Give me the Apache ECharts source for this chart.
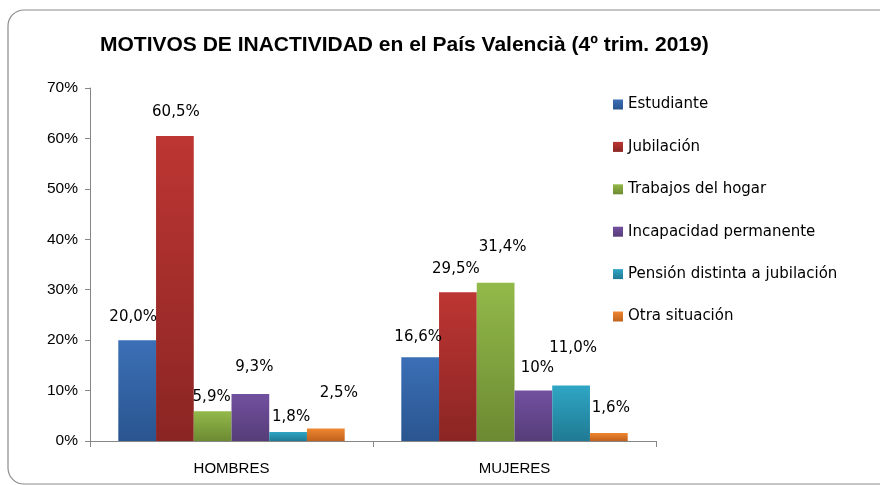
<!DOCTYPE html>
<html>
<head>
<meta charset="utf-8">
<script src="https://cdn.jsdelivr.net/npm/echarts@6/dist/echarts.min.js"></script>
<style>
  html, body { margin: 0; padding: 0; background: #fff; }
  #chart { width: 880px; height: 485px; }
</style>
</head>
<body>
<div id="chart"></div>
<script>
const categories = ["HOMBRES", "MUJERES"];
const seriesNames = [
  "Estudiante",
  "Jubilación",
  "Trabajos del hogar",
  "Incapacidad permanente",
  "Pensión distinta a jubilación",
  "Otra situación",
];
// values per series: [HOMBRES, MUJERES]
const estudiante = [20.0, 16.6];
const jubilacion = [60.5, 29.5];
const trabajosHogar = [5.9, 31.4];
const incapacidad = [9.3, 10.0];
const pension = [1.8, 11.0];
const otra = [2.5, 1.6];
// label texts as printed in the chart
const estudianteLabels = ["20,0%", "16,6%"];
const jubilacionLabels = ["60,5%", "29,5%"];
const trabajosHogarLabels = ["5,9%", "31,4%"];
const incapacidadLabels = ["9,3%", "10%"];
const pensionLabels = ["1,8%", "11,0%"];
const otraLabels = ["2,5%", "1,6%"];
const yTicks = [0, 10, 20, 30, 40, 50, 60, 70];

const seriesValues = [estudiante, jubilacion, trabajosHogar, incapacidad, pension, otra];
const seriesLabels = [estudianteLabels, jubilacionLabels, trabajosHogarLabels, incapacidadLabels, pensionLabels, otraLabels];

// label nudges, to mimic the hand-placed labels of the original
const LABEL_OFFSETS = [
  [[-4, -11], [-2, -8]],
  [[1, -11], [-2, -11]],
  [[-1, -2], [7, -23]],
  [[4, -14], [4, -10]],
  [[3, -2], [2, -25]],
  [[13, -23], [2, -12]],
];
const COLORS = [
  ["#3b6fb6", "#2a5590"],
  ["#bd3633", "#8a2523"],
  ["#93b94a", "#6c8a32"],
  ["#7250a0", "#563d78"],
  ["#2fa6c5", "#207a93"],
  ["#f08731", "#c0621c"],
];
const FONT = "'Liberation Sans', 'DejaVu Sans', sans-serif";

const chart = echarts.init(document.getElementById("chart"), null, { renderer: "canvas" });

chart.setOption({
  backgroundColor: "#fff",
  animation: false,
  graphic: [
    {
      type: "rect",
      shape: { x: 8, y: 10, width: 900, height: 474, r: 16 },
      style: { fill: "none", stroke: "#8c8c8c", lineWidth: 1.2 },
      silent: true,
    },
  ],
  title: {
    text: "MOTIVOS DE INACTIVIDAD en el País Valencià (4º trim. 2019)",
    left: 95,
    top: 30,
    textStyle: { fontFamily: FONT, fontSize: 21, fontWeight: "bold", color: "#000" },
  },
  legend: {
    orient: "vertical",
    left: 608,
    top: 92,
    itemWidth: 10,
    itemHeight: 10,
    itemGap: 27.4,
    icon: "rect",
    data: seriesNames,
    textStyle: { fontFamily: "'DejaVu Sans', sans-serif", fontSize: 15, color: "#000" },
  },
  grid: { left: 90, right: 224, top: 88, bottom: 44, containLabel: false },
  xAxis: {
    type: "category",
    data: categories,
    axisLine: { lineStyle: { color: "#868686", width: 1 } },
    axisTick: { show: true, alignWithLabel: false, length: 6, lineStyle: { color: "#868686" } },
    axisLabel: { color: "#000", fontFamily: FONT, fontSize: 15, margin: 20 },
  },
  yAxis: {
    type: "value",
    min: yTicks[0],
    max: yTicks[yTicks.length - 1],
    interval: 10,
    axisLine: { show: true, lineStyle: { color: "#868686", width: 1 } },
    axisTick: { show: true, length: 5, lineStyle: { color: "#868686" } },
    splitLine: { show: false },
    axisLabel: {
      color: "#000", fontFamily: FONT, fontSize: 15.5, margin: 12,
      padding: [5, 0, 0, 0],
      formatter: (v) => v + "%",
    },
  },
  series: seriesNames.map((name, i) => ({
    name,
    type: "bar",
    barGap: "0%",
    barCategoryGap: "20%",
    itemStyle: {
      color: new echarts.graphic.LinearGradient(0, 0, 0, 1, [
        { offset: 0, color: COLORS[i][0] },
        { offset: 1, color: COLORS[i][1] },
      ]),
    },
    data: seriesValues[i].map((v, j) => ({
      value: v,
      label: {
        show: true,
        position: "top",
        distance: 5,
        offset: LABEL_OFFSETS[i][j],
        formatter: () => seriesLabels[i][j],
        color: "#000",
        fontFamily: "'DejaVu Sans', sans-serif",
        fontSize: 15,
      },
    })),
  })),
});
</script>
</body>
</html>
